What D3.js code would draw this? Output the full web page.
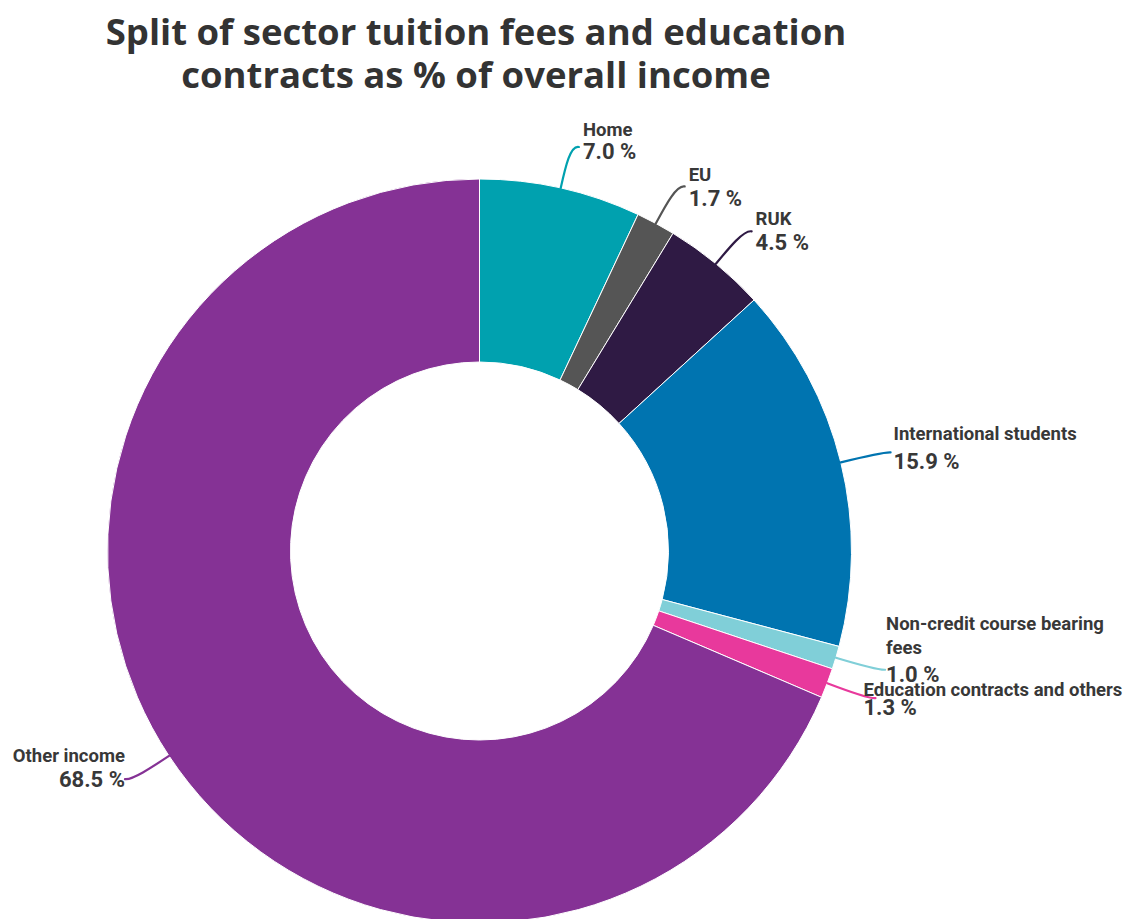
<!DOCTYPE html>
<html>
<head>
<meta charset="utf-8">
<script src="https://cdn.jsdelivr.net/npm/d3@7"></script>
<style>
  html, body { margin: 0; padding: 0; background: #fff; }
  svg { display: block; }
</style>
</head>
<body>
<svg id="chart" width="1133" height="919"></svg>
<script>
// ---- Data ----
const titleLines = ["Split of sector tuition fees and education", "contracts as % of overall income"];
const categories = ["Home", "EU", "RUK", "International students", "Non-credit course bearing fees", "Education contracts and others", "Other income"];
const values = [7.0, 1.7, 4.5, 15.9, 1.0, 1.3, 68.5];
const valueLabels = ["7.0 %", "1.7 %", "4.5 %", "15.9 %", "1.0 %", "1.3 %", "68.5 %"];
const colors = ["#00a1af", "#555555", "#2f1a44", "#0074b0", "#80cfd8", "#e8399c", "#853295"];
// label name wrapping
const nameLines = [["Home"], ["EU"], ["RUK"], ["International students"], ["Non-credit course bearing", "fees"], ["Education contracts and others"], ["Other income"]];
// small label nudges (dx, dy) and name-to-value gap
const labelNudgeY = [0, 8, 7, 5, 0, 5, -4];
const labelNudgeX = [1, 1, 1, 0, -2, -15, 3];
const nameGap = [23, 25, 25, 29, 28, 19, 25];

// ---- Layout ----
const svg = d3.select("#chart");
const cx = 479.5, cy = 551, rOuter = 372, rInner = 189;

svg.append("g").selectAll("text").data(titleLines).join("text")
  .attr("x", 476).attr("y", (d, i) => 45 + i * 43)
  .attr("text-anchor", "middle")
  .style("font-family", "'Open Sans', sans-serif")
  .style("font-weight", 700)
  .style("font-size", "36.5px")
  .style("fill", "#333333")
  .text(d => d);

const pie = d3.pie().sort(null).value(d => d)(values);
const arc = d3.arc().innerRadius(rInner).outerRadius(rOuter);

const g = svg.append("g").attr("transform", `translate(${cx},${cy})`);
g.selectAll("path.slice").data(pie).join("path")
  .attr("class", "slice")
  .attr("d", arc)
  .attr("fill", (d, i) => colors[i])
  .attr("stroke", "#ffffff")
  .attr("stroke-width", 1);

const pt = (r, a) => [r * Math.sin(a), -r * Math.cos(a)];

pie.forEach((d, i) => {
  const a = (d.startAngle + d.endAngle) / 2;
  const side = Math.sin(a) >= 0 ? 1 : -1;
  const p0 = pt(rOuter, a);
  const p1 = pt(rOuter + 42, a);
  const e = [p1[0] + side * 9, p1[1]];
  const c1 = pt(rOuter + 22, a);
  const c2 = pt(rOuter + 44, a);
  g.append("path")
    .attr("d", `M${p0[0]},${p0[1]} C${c1[0]},${c1[1]} ${c2[0]},${c2[1]} ${e[0]},${e[1]}`)
    .attr("fill", "none")
    .attr("stroke", colors[i])
    .attr("stroke-width", 2.2)
    .attr("stroke-linecap", "round");

  const tx = e[0] + side * 3 + labelNudgeX[i];
  const vy = e[1] + 12 + labelNudgeY[i];
  const anchor = side > 0 ? "start" : "end";
  const lab = g.append("g")
    .style("font-family", "Roboto, sans-serif")
    .style("font-weight", 700)
    .style("fill", "#383838")
    .attr("text-anchor", anchor);
  const lines = nameLines[i];
  lines.forEach((ln, k) => {
    lab.append("text")
      .attr("x", tx)
      .attr("y", vy - nameGap[i] - (lines.length - 1 - k) * 24)
      .style("font-size", "18.5px")
      .text(ln);
  });
  lab.append("text")
    .attr("x", tx)
    .attr("y", vy)
    .style("font-size", "22px")
    .text(valueLabels[i]);
});
</script>
</body>
</html>
